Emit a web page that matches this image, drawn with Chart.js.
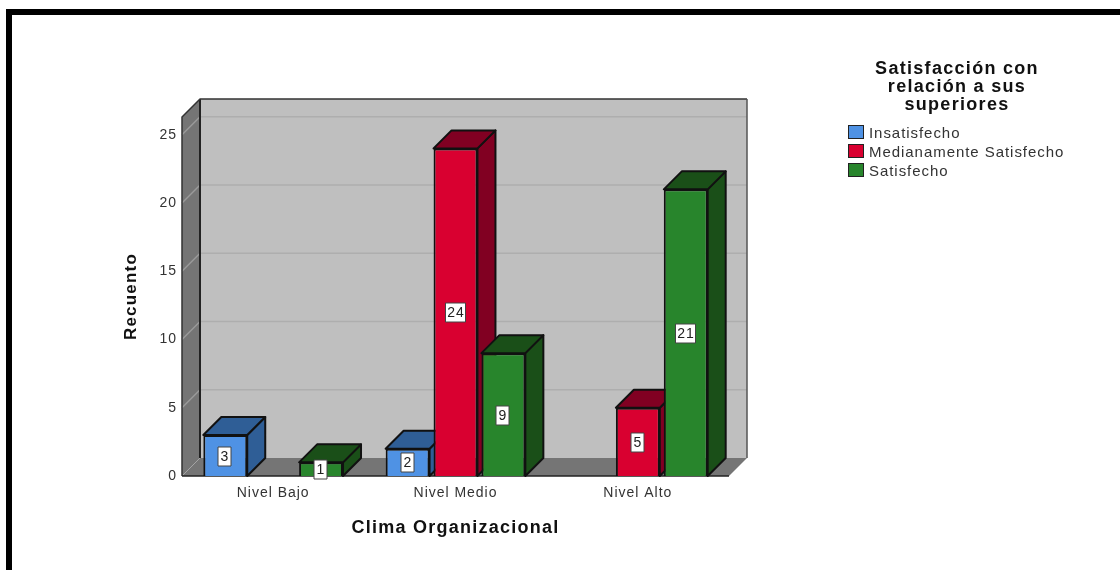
<!DOCTYPE html>
<html>
<head>
<meta charset="utf-8">
<script src="https://cdn.jsdelivr.net/npm/chart.js@4"></script>
<style>
    html, body { margin: 0; padding: 0; background: #fff; overflow: hidden; }
    #page { position: relative; width: 1120px; height: 570px; }
    #frame { position: absolute; left: 6px; top: 9px; right: 0; bottom: 0; border-left: 6px solid #000; border-top: 6px solid #000; }
    canvas { position: absolute; left: 0; top: 0; }
    #legend { position: absolute; left: 830px; top: 59px; width: 254px; font-family: "Liberation Sans", Arial, sans-serif; }
    #legend .title { font-weight: bold; font-size: 18px; line-height: 18px; letter-spacing: 1.3px; color: #111; text-align: center; margin-bottom: 10px; }
    #legend .item { position: relative; height: 19px; line-height: 19px; font-size: 15px; letter-spacing: 0.95px; color: #333; padding-left: 39px; white-space: nowrap; }
    #legend .swatch { position: absolute; left: 18px; top: 2px; width: 14px; height: 12px; border: 1.5px solid #222; }
</style>
</head>
<body>
<div id="page">
    <div id="frame"></div>
    <canvas id="chart" width="1120" height="570"></canvas>
    <div id="legend"></div>
</div>
<script>
const categories = ['Nivel Bajo', 'Nivel Medio', 'Nivel Alto'];
const insatisfecho = [3, 2, null];
const medianamente = [null, 24, 5];
const satisfecho = [1, 9, 21];
const seriesNames = ['Insatisfecho', 'Medianamente Satisfecho', 'Satisfecho'];
const legendTitle = ['Satisfacción con', 'relación a sus', 'superiores'];

const faceColors = ['#4f92e4', '#d90030', '#28852c'];
const shadeColors = ['#2f5e96', '#810022', '#1a4f18'];
const DEPTH = 18;
const FONT = '"Liberation Sans", Arial, sans-serif';

function poly(ctx, pts, fill, stroke, lw) {
    ctx.beginPath();
    pts.forEach((p, i) => i ? ctx.lineTo(p[0], p[1]) : ctx.moveTo(p[0], p[1]));
    ctx.closePath();
    if (fill) { ctx.fillStyle = fill; ctx.fill(); }
    if (stroke) { ctx.strokeStyle = stroke; ctx.lineWidth = lw || 1; ctx.stroke(); }
}

function drawBox(chart) {
    const { ctx, chartArea: a, scales: { y } } = chart;
    const d = DEPTH;
    poly(ctx, [[a.left + d, a.top - d], [a.right + d, a.top - d], [a.right + d, a.bottom - d], [a.left + d, a.bottom - d]], '#bfbfbf');
    poly(ctx, [[a.left, a.bottom], [a.left, a.top], [a.left + d, a.top - d], [a.left + d, a.bottom - d]], '#757575');
    poly(ctx, [[a.left, a.bottom], [a.left + d, a.bottom - d], [a.right + d, a.bottom - d], [a.right, a.bottom]], '#757575');

    ctx.lineWidth = 1.5;
    y.ticks.forEach(t => {
        if (t.value === 0) return;
        const py = y.getPixelForValue(t.value);
        ctx.strokeStyle = '#9a9a9a';
        ctx.beginPath();
        ctx.moveTo(a.left, py);
        ctx.lineTo(a.left + d, py - d);
        ctx.stroke();
        ctx.strokeStyle = '#aeaeae';
        ctx.beginPath();
        ctx.moveTo(a.left + d, py - d);
        ctx.lineTo(a.right + d, py - d);
        ctx.stroke();
    });

    ctx.strokeStyle = '#a5a5a5';
    ctx.lineWidth = 1;
    ctx.beginPath();
    ctx.moveTo(a.left, a.bottom);
    ctx.lineTo(a.left + d, a.bottom - d);
    ctx.stroke();

    ctx.strokeStyle = '#222';
    ctx.lineWidth = 2;
    ctx.beginPath();
    ctx.moveTo(a.left + d, a.bottom - d);
    ctx.lineTo(a.left + d, a.top - d);
    ctx.stroke();
    ctx.lineWidth = 1.5;
    ctx.beginPath();
    ctx.moveTo(a.left, a.bottom);
    ctx.lineTo(a.left, a.top);
    ctx.lineTo(a.left + d, a.top - d);
    ctx.lineTo(a.right + d, a.top - d);
    ctx.strokeStyle = '#333';
    ctx.stroke();
    ctx.beginPath();
    ctx.moveTo(a.right + d, a.top - d);
    ctx.lineTo(a.right + d, a.bottom - d);
    ctx.strokeStyle = '#555';
    ctx.stroke();
    ctx.beginPath();
    ctx.moveTo(a.left, a.bottom);
    ctx.lineTo(a.right, a.bottom);
    ctx.strokeStyle = '#222';
    ctx.stroke();
}

function drawLabels(chart) {
    const { ctx } = chart;
    ctx.font = '14px ' + FONT;
    ctx.textAlign = 'center';
    ctx.textBaseline = 'middle';
    chart.data.datasets.forEach((ds, i) => {
        chart.getDatasetMeta(i).data.forEach((bar, k) => {
            const v = ds.data[k];
            if (v == null) return;
            const txt = String(v);
            const w = txt.length > 1 ? 20 : 13;
            const h = 19;
            const cx = Math.round(bar.x) - 0.5;
            const cy = Math.round((bar.y + bar.base) / 2) + 0.5;
            ctx.fillStyle = '#fff';
            ctx.fillRect(cx - w / 2, cy - h / 2, w, h);
            ctx.strokeStyle = '#444';
            ctx.lineWidth = 1;
            ctx.strokeRect(cx - w / 2, cy - h / 2, w, h);
            ctx.fillStyle = '#222';
            ctx.fillText(txt, cx + 0.5, cy + 0.5);
        });
    });
}

// chart.js paints datasets last to first, here the bars have to overlap left to right,
// so the plugin paints them itself and cancels the default pass
const box3d = {
    id: 'box3d',
    beforeDraw(chart) {
        chart.ctx.letterSpacing = '0.07em';
    },
    beforeDatasetsDraw(chart) {
        const { ctx } = chart;
        const d = DEPTH;
        ctx.save();
        ctx.lineJoin = 'round';
        drawBox(chart);
        chart.data.datasets.forEach((ds, i) => {
            chart.getDatasetMeta(i).data.forEach((bar, k) => {
                if (ds.data[k] == null) return;
                const l = bar.x - bar.width / 2, r = bar.x + bar.width / 2;
                const t = bar.y, b = bar.base;
                poly(ctx, [[r, b], [r, t], [r + d, t - d], [r + d, b - d]], shadeColors[i], '#111', 2);
                poly(ctx, [[l, t], [l + d, t - d], [r + d, t - d], [r, t]], shadeColors[i], '#111', 2);
                bar.draw(ctx);
            });
        });
        drawLabels(chart);
        ctx.restore();
        return false;
    },
};

const values = [insatisfecho, medianamente, satisfecho];

new Chart(document.getElementById('chart'), {
    type: 'bar',
    data: {
        labels: categories,
        datasets: seriesNames.map((name, i) => ({
            label: name,
            data: values[i],
            backgroundColor: faceColors[i],
            borderColor: '#111',
            borderWidth: 2,
        })),
    },
    options: {
        responsive: false,
        animation: false,
        categoryPercentage: 0.788,
        barPercentage: 0.917,
        layout: { padding: { left: 121, right: 391, top: 117, bottom: 31 } },
        plugins: {
            legend: { display: false },
            tooltip: { enabled: false },
        },
        scales: {
            x: {
                grid: { display: false, drawTicks: false },
                border: { display: false },
                ticks: { color: '#333', padding: 9, maxRotation: 0, font: { family: FONT, size: 14 } },
                title: {
                    display: true,
                    text: 'Clima Organizacional',
                    color: '#111',
                    padding: 0,
                    font: { family: FONT, size: 18, weight: 'bold' },
                },
                afterFit(scale) { scale.height = 63; },
            },
            y: {
                min: 0,
                max: 26.3,
                grid: { display: false, drawTicks: false },
                border: { display: false },
                ticks: { stepSize: 5, includeBounds: false, color: '#333', padding: 5, font: { family: FONT, size: 14 } },
                title: {
                    display: true,
                    text: 'Recuento',
                    color: '#111',
                    padding: 0,
                    font: { family: FONT, size: 17, weight: 'bold' },
                },
                afterFit(scale) { scale.width = 61; },
            },
        },
    },
    plugins: [box3d],
});

// legend block
const legend = document.getElementById('legend');
const titleEl = document.createElement('div');
titleEl.className = 'title';
titleEl.innerHTML = legendTitle.join('<br>');
legend.appendChild(titleEl);
seriesNames.forEach((name, i) => {
    const item = document.createElement('div');
    item.className = 'item';
    const sw = document.createElement('span');
    sw.className = 'swatch';
    sw.style.background = faceColors[i];
    item.appendChild(sw);
    item.appendChild(document.createTextNode(name));
    legend.appendChild(item);
});
</script>
</body>
</html>
